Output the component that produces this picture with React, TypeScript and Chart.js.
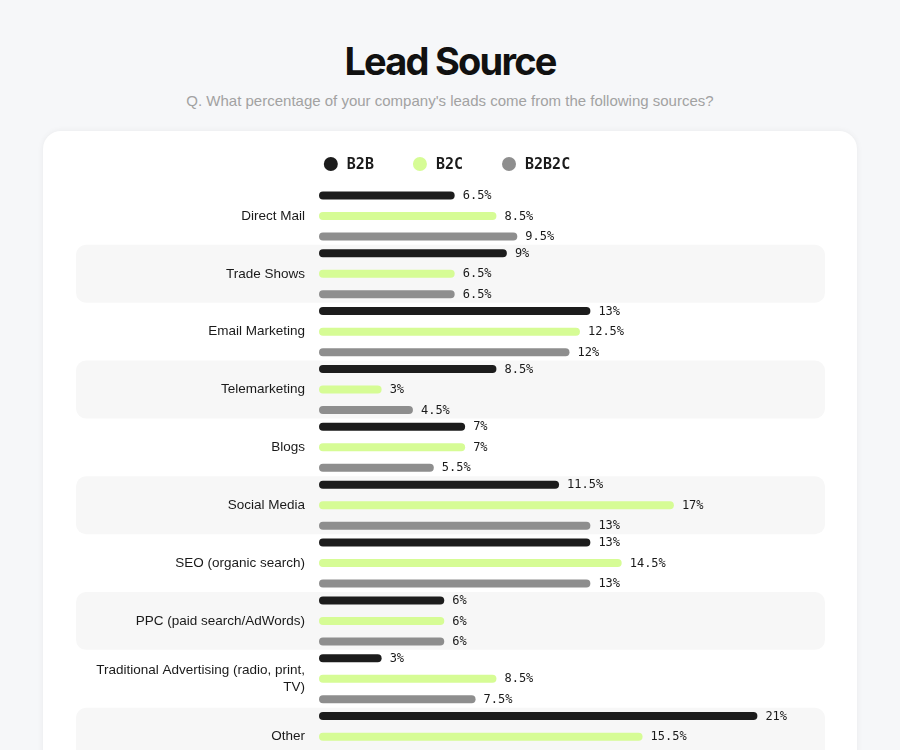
import React, { useEffect, useRef } from "react";
import { Chart, registerables } from "chart.js";

Chart.register(...registerables);

const TITLE = "Lead Source";
const SUBTITLE = "Q. What percentage of your company's leads come from the following sources?";

const categories: (string | string[])[] = [
  "Direct Mail",
  "Trade Shows",
  "Email Marketing",
  "Telemarketing",
  "Blogs",
  "Social Media",
  "SEO (organic search)",
  "PPC (paid search/AdWords)",
  ["Traditional Advertising (radio, print,", "TV)"],
  "Other",
];

const seriesNames = ["B2B", "B2C", "B2B2C"];
const b2b = [6.5, 9, 13, 8.5, 7, 11.5, 13, 6, 3, 21];
const b2c = [8.5, 6.5, 12.5, 3, 7, 17, 14.5, 6, 8.5, 15.5];
const b2b2c = [9.5, 6.5, 12, 4.5, 5.5, 13, 13, 6, 7.5, 17];
const seriesColors = ["#1c1c1c", "#d6fc95", "#8e8e8e"];

const X_MAX = 24;

const bandPlugin = {
  id: "bands",
  beforeDraw(chart: any) {
    const { ctx } = chart;
    const y = chart.scales.y;
    const n = categories.length;
    const step = n > 1 ? y.getPixelForValue(1) - y.getPixelForValue(0) : 58;
    ctx.save();
    ctx.fillStyle = "#f7f7f7";
    for (let i = 1; i < n; i += 2) {
      const c = y.getPixelForValue(i);
      const top = c - step / 2;
      const left = 33;
      const right = 782;
      ctx.beginPath();
      (ctx as any).roundRect(left, top, right - left, step, 10);
      ctx.fill();
    }
    ctx.restore();
  },
};

const valueLabelPlugin = {
  id: "valueLabels",
  afterDatasetsDraw(chart: any) {
    const { ctx } = chart;
    ctx.save();
    ctx.font = "12px 'DejaVu Sans Mono'";
    ctx.fillStyle = "#1a1a1a";
    ctx.textBaseline = "middle";
    ctx.textAlign = "left";
    chart.data.datasets.forEach((ds: any, di: number) => {
      const meta = chart.getDatasetMeta(di);
      meta.data.forEach((bar: any, i: number) => {
        const v = ds.data[i];
        ctx.fillText(v + "%", bar.x + 8, bar.y + 0.5);
      });
    });
    ctx.restore();
  },
};

const legendPlugin = {
  id: "customLegend",
  afterDraw(chart: any) {
    const { ctx } = chart;
    ctx.save();
    ctx.font = "bold 15px 'DejaVu Sans Mono'";
    ctx.textBaseline = "middle";
    const r = 7;
    const gapText = 9;
    const gapItem = 39;
    const widths = seriesNames.map((s) => ctx.measureText(s).width);
    let total = 0;
    widths.forEach((w, i) => {
      total += r * 2 + gapText + w + (i < widths.length - 1 ? gapItem : 0);
    });
    let x = chart.width / 2 - total / 2 - 3;
    const cy = 33;
    seriesNames.forEach((s, i) => {
      ctx.beginPath();
      ctx.fillStyle = seriesColors[i];
      ctx.arc(x + r, cy, r, 0, Math.PI * 2);
      ctx.fill();
      ctx.fillStyle = "#1a1a1a";
      ctx.fillText(s, x + r * 2 + gapText, cy + 1);
      x += r * 2 + gapText + widths[i] + gapItem;
    });
    ctx.restore();
  },
};

export default function App() {
  const ref = useRef<HTMLCanvasElement>(null);

  useEffect(() => {
    if (!ref.current) return;
    const data = [b2b, b2c, b2b2c];
    const chart = new Chart(ref.current, {
      type: "bar",
      data: {
        labels: categories as any,
        datasets: seriesNames.map((name, i) => ({
          label: name,
          data: data[i],
          backgroundColor: seriesColors[i],
          borderWidth: 0,
          borderRadius: 5,
          borderSkipped: false,
          categoryPercentage: 1.064,
          barPercentage: 0.39,
        })),
      },
      options: {
        indexAxis: "y",
        animation: false,
        responsive: false,
        devicePixelRatio: 1,
        layout: { padding: { top: 56, left: 0, right: 37, bottom: 7 } },
        plugins: {
          legend: { display: false },
          tooltip: { enabled: false },
          title: { display: false },
        },
        scales: {
          x: {
            display: false,
            min: 0,
            max: X_MAX,
          },
          y: {
            grid: { display: false, drawTicks: false },
            border: { display: false },
            ticks: {
              autoSkip: false,
              padding: 14,
              color: "#1a1a1a",
              font: { family: "'Liberation Sans', Arial, sans-serif", size: 13.5, lineHeight: 1.25 },
            },
            afterFit(scale: any) {
              scale.width = 276;
            },
          },
        },
      },
      plugins: [bandPlugin, valueLabelPlugin, legendPlugin],
    });
    return () => chart.destroy();
  }, []);

  return (
    <div
      style={{
        position: "absolute",
        left: 0,
        top: 0,
        width: 900,
        height: 780,
        background: "#f6f7f9",
        overflow: "hidden",
      }}
    >
      <div
        style={{
          position: "absolute",
          left: 0,
          top: 38,
          width: 900,
          textAlign: "center",
          fontFamily: "Inter, sans-serif",
          fontWeight: 700,
          fontSize: 38,
          letterSpacing: -1.8,
          color: "#111",
          lineHeight: "46px",
        }}
      >
        {TITLE}
      </div>
      <div
        style={{
          position: "absolute",
          left: 0,
          top: 91,
          width: 900,
          textAlign: "center",
          fontFamily: "'Liberation Sans', Arial, sans-serif",
          fontSize: 15,
          color: "#a2a2a2",
          lineHeight: "20px",
        }}
      >
        {SUBTITLE}
      </div>
      <div
        style={{
          position: "absolute",
          left: 43,
          top: 131,
          width: 814,
          height: 700,
          background: "#ffffff",
          borderRadius: 18,
          boxShadow: "0 0 6px rgba(0,0,0,0.06)",
        }}
      >
        <canvas ref={ref} width={814} height={657} style={{ display: "block" }} />
      </div>
    </div>
  );
}
